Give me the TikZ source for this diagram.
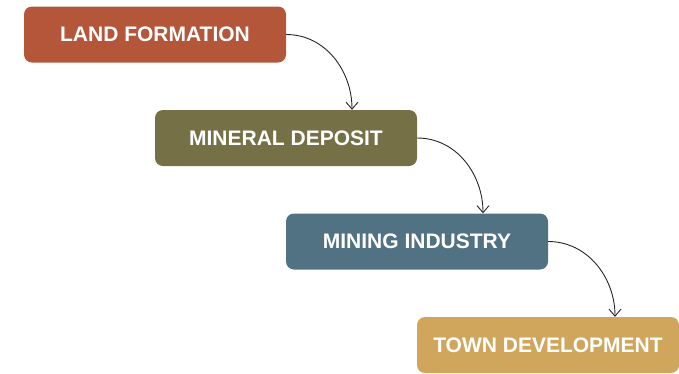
\documentclass[tikz,border=0pt]{standalone}
\usepackage{fontspec}
\setmainfont{Liberation Sans}
\usetikzlibrary{arrows.meta}
\definecolor{cland}{HTML}{B3563A}
\definecolor{cmin}{HTML}{757046}
\definecolor{cind}{HTML}{507282}
\definecolor{ctown}{HTML}{CFA65C}
\begin{document}
\begin{tikzpicture}[x=1pt,y=-1pt,
  stepbox/.style={rectangle, rounded corners=8pt, minimum width=262pt, minimum height=56pt,
    text=white, font=\fontsize{21}{24}\selectfont\bfseries, inner sep=0pt},
  flow/.style={draw=black!85, line width=0.9pt, -{Straight Barb[length=7pt,width=12pt]}}]
\useasboundingbox (0,0) rectangle (679,373);
\node[stepbox, fill=cland] (a) at (155,34.5) {LAND FORMATION};
\node[stepbox, fill=cmin] (b) at (286,138) {MINERAL DEPOSIT};
\node[stepbox, fill=cind] (c) at (417,241.5) {MINING INDUSTRY};
\node[stepbox, fill=ctown] (d) at (548,345) {TOWN DEVELOPMENT};
\coordinate (bt) at ([xshift=66pt]b.north);
\coordinate (ct) at ([xshift=66pt]c.north);
\coordinate (dt) at ([xshift=67pt]d.north);
\draw[flow] (a.east) to[out=0,in=90] (bt);
\draw[flow] (b.east) to[out=0,in=90] (ct);
\draw[flow] (c.east) to[out=0,in=90] (dt);
\end{tikzpicture}
\end{document}
